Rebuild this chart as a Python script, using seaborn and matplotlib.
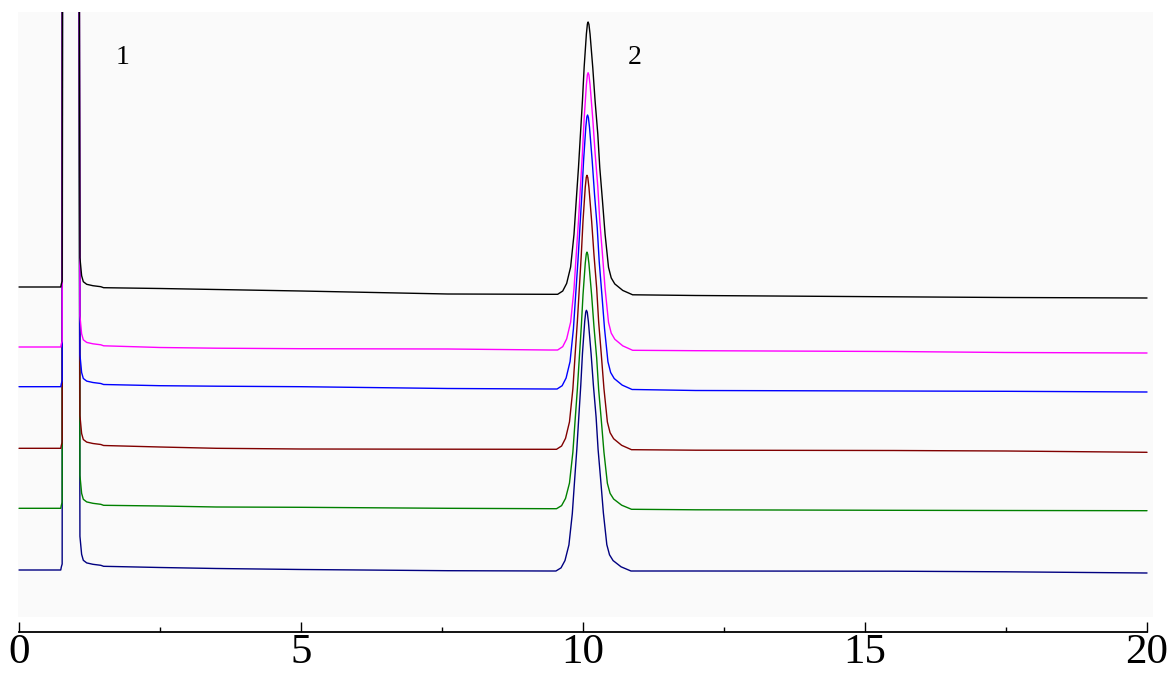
import numpy as np
import pandas as pd
import seaborn as sns
import matplotlib.pyplot as plt
from matplotlib.ticker import MultipleLocator

# baseline knots (time, min) and baseline signal of each trace at those knots
times_base = [0.0, 1.5, 2.5, 3.5, 5.0, 7.6, 9.4, 10.9, 12.0, 15.5, 17.5, 20.0]
base_black = [330, 329.3, 328.5, 327.5, 326, 323, 322.7, 322.2, 321.5, 320.2, 319.5, 319]
base_magenta = [270, 271.2, 269.5, 268.8, 268.3, 268, 267, 266.7, 266.3, 265.5, 264.5, 264]
base_blue = [230.3, 232.5, 231.3, 230.8, 230.3, 228.5, 228, 227.5, 226.5, 226, 225.7, 225]
base_brown = [168.7, 171.5, 170, 168.7, 168, 167.8, 167.7, 167.3, 166.8, 166.5, 166, 164.7]
base_green = [108.7, 111.7, 111, 110, 109.7, 108.7, 108.3, 107.7, 107.2, 106.7, 106.5, 106.3]
base_navy = [47, 50.7, 49.5, 48.5, 47.5, 46.3, 46, 46, 46, 45.8, 45.2, 44]

# peak 2: apex time and height per trace
peak_time = [10.09, 10.09, 10.08, 10.07, 10.07, 10.06]
peak_height = [272.3, 277.3, 274, 274, 256.6, 260.7]

# peak 2 shape (offset from apex, fraction of height)
peak_dt = [-0.54, -0.45, -0.38, -0.31, -0.25, -0.21, -0.17, -0.135, -0.10, -0.07, -0.03, -0.012, 0.0,
           0.015, 0.035, 0.083, 0.124, 0.172, 0.207, 0.255, 0.301, 0.362, 0.41, 0.473, 0.615, 0.79]
peak_frac = [0, 0.012, 0.04, 0.10, 0.22, 0.345, 0.467, 0.59, 0.712, 0.834, 0.957, 0.993, 1.0,
             0.993, 0.957, 0.834, 0.712, 0.59, 0.467, 0.345, 0.223, 0.101, 0.062, 0.04, 0.016, 0]

# peak 1 (solvent, off scale): rise and tail above local baseline
solv_rise_t = [0.74, 0.75, 0.765, 0.775]
solv_rise_h = [0, 3, 6, 1000]
solv_tail_t = [1.05, 1.08, 1.11, 1.14, 1.20, 1.31, 1.45]
solv_tail_h = [1000, 30, 12, 6, 3.4, 2, 1]

names = ["black", "magenta", "blue", "brown", "green", "navy"]
colors = ["#000000", "#ff00ff", "#0000ff", "#800000", "#008000", "#000080"]
bases = [base_black, base_magenta, base_blue, base_brown, base_green, base_navy]

rows = []
for name, b, c, h in zip(names, bases, peak_time, peak_height):
    pts = [(times_base[0], b[0])]
    pts += [(t, b[0] + v) for t, v in zip(solv_rise_t, solv_rise_h)]
    pts += [(t, b[1] + v) for t, v in zip(solv_tail_t, solv_tail_h)]
    pts += [(times_base[i], b[i]) for i in range(1, 7)]
    pts += [(c + dt, (b[6] if dt <= 0 else b[7]) + h * f) for dt, f in zip(peak_dt, peak_frac)]
    pts += [(times_base[i], b[i]) for i in range(7, len(times_base))]
    for k, (t, y) in enumerate(pts):
        rows.append({"trace": name, "order": k, "time": t, "signal": y})
df = pd.DataFrame(rows)

sns.set_style("white")
plt.rcParams['font.family'] = ['Liberation Serif', 'DejaVu Serif']
plt.rcParams['text.color'] = 'black'
plt.rcParams['xtick.color'] = 'black'

fig = plt.figure(figsize=(11.71, 6.77), dpi=100)
ax = fig.add_axes([18 / 1171, 1 - 617 / 677, (1153 - 18) / 1171, (617 - 12) / 677])
ax.set_facecolor("#fafafa")

# navy drawn first, magenta last
draw_order = names[::-1]
sns.lineplot(data=df, x="time", y="signal", hue="trace", hue_order=draw_order,
             palette=dict(zip(names, colors)), estimator=None, sort=False,
             units="trace", linewidth=1.0, legend=False, ax=ax)

ax.set_xlim(-0.018, 20.106)
ax.set_ylim(0, 605)

ax.text(1.84, 560, "1", fontsize=20, ha="center", va="center", color="black")
ax.text(10.92, 560, "2", fontsize=20, ha="center", va="center", color="black")

for s in ["left", "right", "top"]:
    ax.spines[s].set_visible(False)
ax.spines["bottom"].set_position(("outward", 10.6))
ax.spines["bottom"].set_bounds(0, 20)
ax.spines["bottom"].set_linewidth(1.3)
ax.spines["bottom"].set_color("black")

ax.set_yticks([])
ax.xaxis.set_major_locator(MultipleLocator(5))
ax.xaxis.set_minor_locator(MultipleLocator(2.5))
ax.tick_params(axis="x", which="major", direction="in", length=7.2, width=1.0,
               labelsize=31, pad=1.5, color="black", labelcolor="black", bottom=True)
ax.tick_params(axis="x", which="minor", direction="in", length=3.6, width=1.0,
               color="black", bottom=True)
ax.set_xlabel("")
ax.set_ylabel("")

fig.savefig("out.png", dpi=100)
